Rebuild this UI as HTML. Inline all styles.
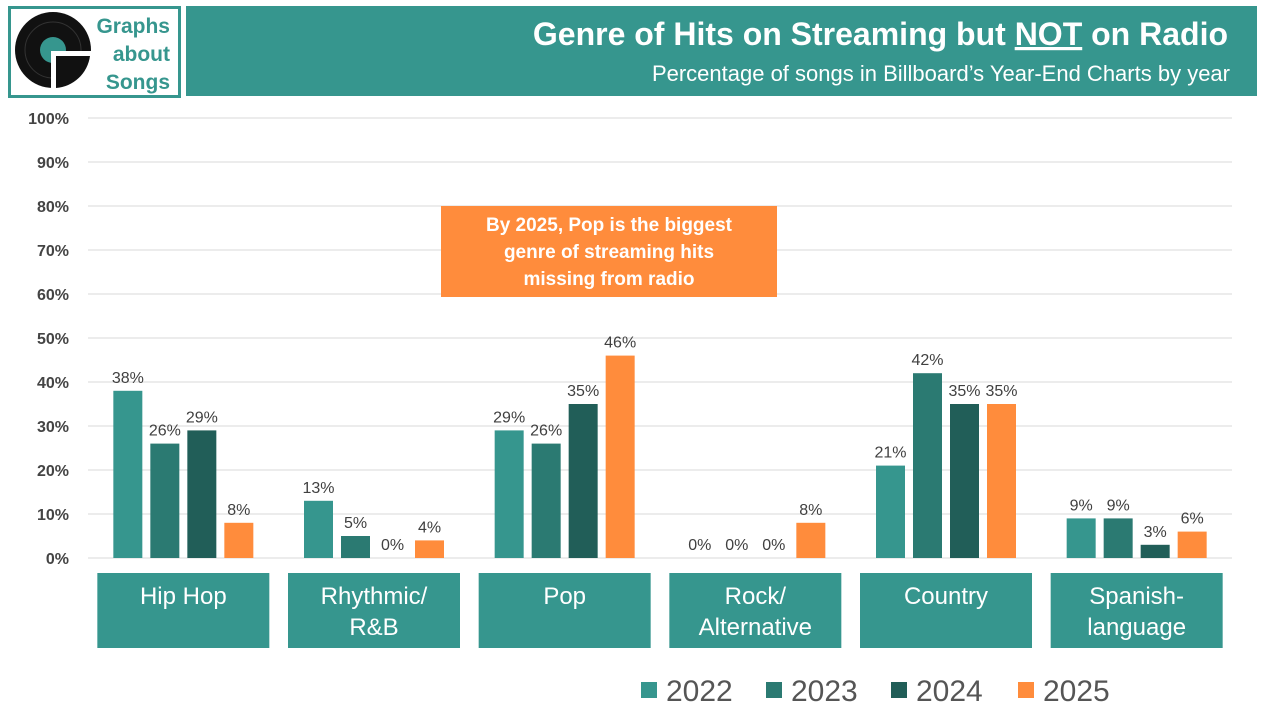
<!DOCTYPE html>
<html><head><meta charset="utf-8"><style>
body{margin:0;width:1280px;height:720px;background:#fff;overflow:hidden;font-family:"Liberation Sans",sans-serif}
svg text{font-family:"Liberation Sans",sans-serif}
</style></head><body>
<svg id="chart" width="1280" height="720">
<g>
<rect x="9.5" y="7.5" width="170" height="89" fill="#fff" stroke="#36968e" stroke-width="3"/>
<circle cx="53" cy="50" r="38" fill="#111"/>
<circle cx="53" cy="50" r="28" fill="none" stroke="#333" stroke-width="1"/>
<circle cx="53" cy="50" r="13" fill="#36968e"/>
<rect x="51" y="51" width="40" height="42" fill="#fff"/>
<path d="M56 56 H90 A37 37 0 0 1 56 88 Z" fill="#111"/>
<text x="170" y="33" text-anchor="end" font-size="21" font-weight="bold" fill="#36968e">Graphs</text>
<text x="170" y="61" text-anchor="end" font-size="21" font-weight="bold" fill="#36968e">about</text>
<text x="170" y="89" text-anchor="end" font-size="21" font-weight="bold" fill="#36968e">Songs</text>
</g>
<rect x="186" y="6" width="1071" height="90" fill="#36968e"/>
<text x="1228" y="45" text-anchor="end" font-size="32" font-weight="bold" fill="#fff">Genre of Hits on Streaming but <tspan text-decoration="underline">NOT</tspan> on Radio</text>
<text x="1230" y="81" text-anchor="end" font-size="22" fill="#fff">Percentage of songs in Billboard’s Year-End Charts by year</text>
<g id="grid"></g><g id="bars"></g><g id="cats"></g><g id="legend"></g>
<g>
<rect x="441" y="206" width="336" height="91" fill="#ff8c3c"/>
<text x="609" y="231" text-anchor="middle" font-size="19" font-weight="bold" fill="#fff">By 2025, Pop is the biggest</text>
<text x="609" y="258" text-anchor="middle" font-size="19" font-weight="bold" fill="#fff">genre of streaming hits</text>
<text x="609" y="285" text-anchor="middle" font-size="19" font-weight="bold" fill="#fff">missing from radio</text>
</g>
</svg>
<script>
const categories=[["Hip Hop"],["Rhythmic/","R&B"],["Pop"],["Rock/","Alternative"],["Country"],["Spanish-","language"]];
const years=["2022","2023","2024","2025"];
const v2022=[38,13,29,0,21,9];
const v2023=[26,5,26,0,42,9];
const v2024=[29,0,35,0,35,3];
const v2025=[8,4,46,8,35,6];
const ticks=[0,10,20,30,40,50,60,70,80,90,100];
const series=[v2022,v2023,v2024,v2025];
const colors=["#36968e","#2b7a72","#215e58","#ff8c3c"];
const NS="http://www.w3.org/2000/svg";
const x0=88,x1=1232,y0=558,y1=118;
const gw=(x1-x0)/categories.length;
const y=v=>y0-(v/100)*(y0-y1);
function mk(t,a,p,txt){const e=document.createElementNS(NS,t);for(const k in a)e.setAttribute(k,a[k]);if(txt!==undefined)e.textContent=txt;p.appendChild(e);return e;}
const grid=document.getElementById('grid');
ticks.forEach(t=>{
 const l=mk('line',{x1:x0,x2:x1,y1:y(t),y2:y(t),stroke:'#d9d9d9','stroke-width':1},grid);
 
 
 const tx=mk('text',{x:69,y:y(t)+6,'text-anchor':'end','font-size':16,fill:'#444','font-weight':'bold'},grid,t+'%');
 
 
});
const bars=document.getElementById('bars');
const bw=29,gap=8;
categories.forEach((c,i)=>{
 const cx=x0+gw*(i+0.5);
 const start=cx-(4*bw+3*gap)/2;
 series.forEach((s,j)=>{
  const bx=start+j*(bw+gap);
  const r=mk('rect',{x:bx,y:y(s[i]),width:bw,height:y0-y(s[i]),fill:colors[j]},bars);
  
  
  const t=mk('text',{x:bx+bw/2,y:y(s[i])-8,'text-anchor':'middle','font-size':16,fill:'#404040'},bars,s[i]+'%');
  
  
 });
});
const cats=document.getElementById('cats');
categories.forEach((c,i)=>{
 const cx=x0+gw*(i+0.5);
 const r=mk('rect',{x:cx-86,y:573,width:172,height:75,fill:'#36968e'},cats);
 
 
 c.forEach((line,k)=>{
  const yy=c.length===1?604:(604+k*31);
  const t=mk('text',{x:cx,y:yy,'text-anchor':'middle','font-size':24,fill:'#fff'},cats,line);
  
  
 });
});
const lg=document.getElementById('legend');
const lx=[641,766,891,1018];
years.forEach((yr,j)=>{
 const r=mk('rect',{x:lx[j],y:682,width:16,height:16,fill:colors[j]},lg);
 
 
 const t=mk('text',{x:lx[j]+25,y:701,'font-size':30,fill:'#555'},lg,yr);
 
 
});
</script>
</body></html>
